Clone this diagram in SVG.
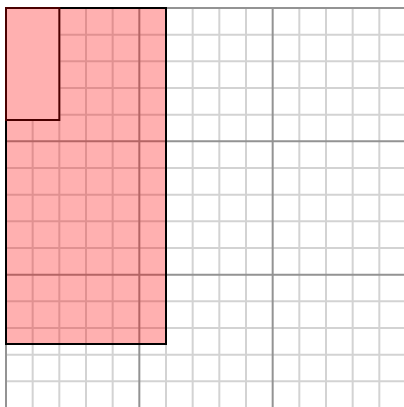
<svg xmlns="http://www.w3.org/2000/svg" width="404" height="407" viewBox="0 0 404 407">
<style>
.minor{stroke:#d3d3d3;stroke-width:2;fill:none}
.major{stroke:#939393;stroke-width:2;fill:none}
.outer{fill:rgba(255,0,0,0.31);stroke:#000;stroke-width:2}
.inner{fill:#ffb0b0;stroke:#4a0000;stroke-width:2}
</style>
<rect width="404" height="407" fill="#fff"/>
<g id="grid">
<path class="minor" d="M32.67 8V407M59.33 8V407M86 8V407M112.67 8V407M166 8V407M192.67 8V407M219.33 8V407M246 8V407M299.33 8V407M326 8V407M352.67 8V407M379.33 8V407"/>
<path class="minor" d="M6 34.67H404M6 61.33H404M6 88H404M6 114.67H404M6 168H404M6 194.67H404M6 221.33H404M6 248H404M6 301.33H404M6 328H404M6 354.67H404M6 381.33H404"/>
<path class="major" d="M6 8V407M139.33 8V407M272.67 8V407M6 8H404M6 141.33H404M6 274.67H404"/>
</g>
<g id="outer-rect"><rect class="outer" x="6" y="8" width="160" height="336"/></g>
<g id="inner-rect"><rect class="inner" x="6" y="8" width="53.33" height="112"/></g>
</svg>
